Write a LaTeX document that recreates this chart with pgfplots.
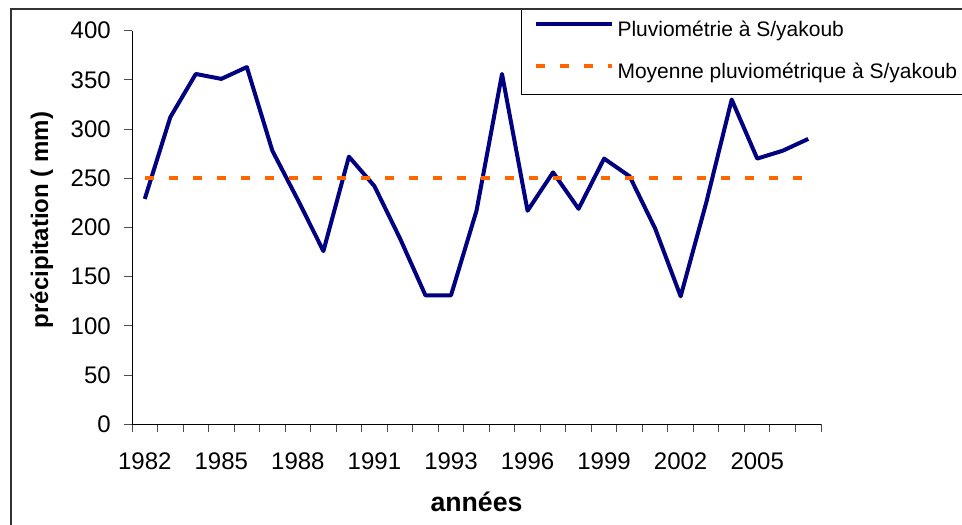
\documentclass[border=0pt]{standalone}
\usepackage{fontspec}
\setmainfont{Liberation Sans}
\usepackage{pgfplots}
\usepackage{pgfplotstable}
\pgfplotsset{compat=1.18}

\definecolor{navyline}{RGB}{0,0,128}
\definecolor{orangeline}{RGB}{255,102,0}

% annual rainfall, one row per category (27 years)
\pgfplotstableread{
idx val
0  229
1  312
2  356
3  351
4  363
5  278
6  228
7  176
8  272
9  242
10 189
11 131
12 131
13 217
14 356
15 217
16 256
17 219
18 270
19 252
20 199
21 130
22 225
23 330
24 270
25 278
26 290
}\pluvio

\begin{document}
\begin{tikzpicture}
\path[use as bounding box] (0,0) rectangle (721.5pt,-393pt);
\clip (0,0) rectangle (721.5pt,-393pt);
\begin{axis}[
  at={(99pt,-318.2pt)}, anchor=south west,
  scale only axis, width=516.75pt, height=295.2pt,
  xmin=-0.5, xmax=26.5, ymin=0, ymax=400,
  axis lines*=left,
  axis line style={black, line width=0.75pt},
  tick align=outside,
  tick style={black!70, line width=0.75pt},
  major tick length=6pt,
  ytick={0,50,...,400},
  xtick={-0.5,0.5,...,26.5},
  xticklabels={},
  extra x ticks={0,3,...,24},
  extra x tick labels={1982,1985,1988,1991,1993,1996,1999,2002,2005},
  extra x tick style={major tick length=0pt},
  /pgf/number format/assume math mode=true,
  ticklabel style={font=\fontsize{18}{20}\selectfont},
  yticklabel style={anchor=east, inner sep=0pt, xshift=-9.75pt},
  xticklabel style={anchor=north, inner sep=0pt, yshift=-21.5pt},
  xlabel={\textbf{années}},
  ylabel={\textbf{précipitation ( mm)}},
  xlabel style={at={(axis description cs:0.5,-0.2228)}, anchor=base,
    font=\fontsize{20}{22}\selectfont},
  ylabel style={at={(axis description cs:-0.1219,0.519)}, anchor=base,
    font=\fontsize{18}{20}\selectfont},
  legend style={at={(axis description cs:0.5646,1.0551)}, anchor=north west,
    draw=black, line width=0.75pt, inner xsep=9pt, inner ysep=8.5pt,
    row sep=16.7pt, column sep=3pt,
    font=\fontsize{15.75}{18}\selectfont,
    nodes={inner sep=0pt, text height=11.5pt, text depth=3.5pt}},
  legend cell align=left,
  legend image code/.code={\draw[#1] (0pt,5.25pt) -- (57pt,5.25pt);},
]
\addplot[navyline, line width=3pt, line join=round] table[x=idx, y=val]{\pluvio};
\addlegendentry{Pluviométrie à S/yakoub}
\addplot[orangeline, line width=3pt, dash pattern=on 6.75pt off 11.25pt]
  coordinates {(0,250) (26,250)};
\addlegendentry{Moyenne pluviométrique à S/yakoub\hspace{16pt}}
\end{axis}
\draw[black!80, line width=1.2pt] (8.25pt,-400pt) |- (730pt,-6.75pt);
\end{tikzpicture}
\end{document}
